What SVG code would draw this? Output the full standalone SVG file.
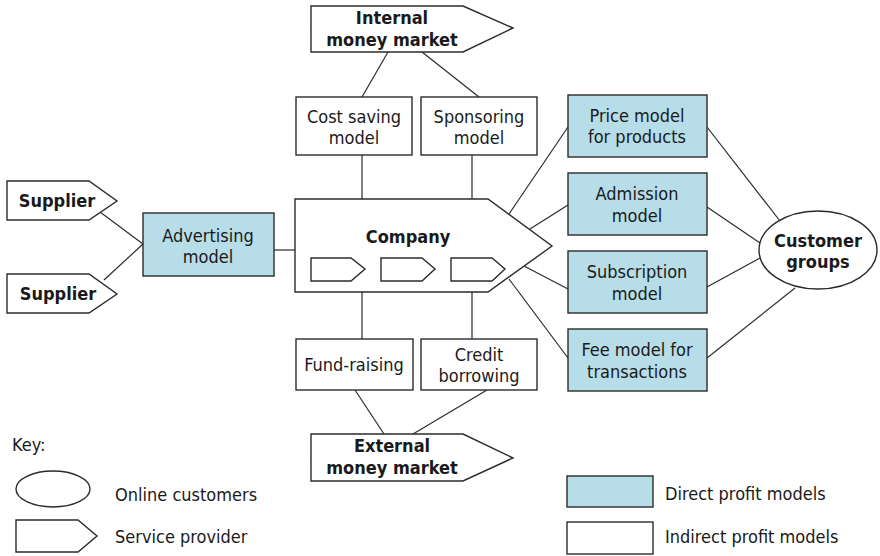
<svg xmlns="http://www.w3.org/2000/svg" width="880" height="556" viewBox="0 0 880 556">
<style>
.s{fill:#fff;stroke:#2b2b2b;stroke-width:1.4}
.b{fill:#b7dde8;stroke:#2b2b2b;stroke-width:1.4}
.c line{stroke:#2b2b2b;stroke-width:1.2}
text{font-family:"DejaVu Sans Condensed","DejaVu Sans",sans-serif;font-size:18px;fill:#1a1a1a;text-anchor:middle}
.bd{font-weight:bold}
.k{text-anchor:start}
</style>
<rect width="880" height="556" fill="#fff"/>
<g id="connectors" class="c">
<line x1="388" y1="52" x2="362" y2="97"/>
<line x1="422" y1="52" x2="479" y2="97"/>
<line x1="362" y1="155" x2="362" y2="199"/>
<line x1="472" y1="155" x2="472" y2="199"/>
<line x1="100" y1="212" x2="143" y2="244"/>
<line x1="104" y1="280" x2="143" y2="244"/>
<line x1="274" y1="250" x2="295" y2="250"/>
<line x1="509" y1="214" x2="568" y2="127"/>
<line x1="530" y1="229" x2="568" y2="205"/>
<line x1="524" y1="266" x2="568" y2="289"/>
<line x1="509" y1="279" x2="568" y2="358"/>
<line x1="707" y1="127" x2="780" y2="221"/>
<line x1="707" y1="207" x2="760" y2="243"/>
<line x1="707" y1="287" x2="760" y2="258"/>
<line x1="707" y1="358" x2="795" y2="288"/>
<line x1="362" y1="292" x2="362" y2="339"/>
<line x1="472" y1="292" x2="472" y2="339"/>
<line x1="355" y1="390" x2="384" y2="434"/>
<line x1="487" y1="390" x2="413" y2="434"/>
</g>
<g id="internal-money-market">
<polygon class="s" points="311,6 463,6 513,28 463,52 311,52"/>
<text class="bd" x="392" y="24">Internal</text>
<text class="bd" x="392" y="46">money market</text>
</g>
<g id="cost-saving-model">
<rect class="s" x="296" y="97" width="116" height="58"/>
<text x="354" y="123">Cost saving</text>
<text x="354" y="144">model</text>
</g>
<g id="sponsoring-model">
<rect class="s" x="421" y="97" width="116" height="58"/>
<text x="479" y="123">Sponsoring</text>
<text x="479" y="144">model</text>
</g>
<g id="supplier-1">
<polygon class="s" points="7,181 89,181 117,201 89,220 7,220"/>
<text class="bd" x="57" y="207">Supplier</text>
</g>
<g id="supplier-2">
<polygon class="s" points="7,274 89,274 117,294 89,313 7,313"/>
<text class="bd" x="58" y="300">Supplier</text>
</g>
<g id="advertising-model">
<rect class="b" x="143" y="213" width="131" height="63"/>
<text x="208" y="242">Advertising</text>
<text x="208" y="263">model</text>
</g>
<g id="company">
<polygon class="s" points="295,199 488,199 552,246 488,292 295,292"/>
<text class="bd" x="408" y="243">Company</text>
<polygon class="s" points="311,258 351,258 365,269 351,281 311,281"/>
<polygon class="s" points="381,258 422,258 435,269 422,281 381,281"/>
<polygon class="s" points="451,258 492,258 505,269 492,281 451,281"/>
</g>
<g id="price-model">
<rect class="b" x="568" y="95" width="139" height="62"/>
<text x="637" y="122">Price model</text>
<text x="637" y="143">for products</text>
</g>
<g id="admission-model">
<rect class="b" x="568" y="173" width="139" height="62"/>
<text x="637" y="200">Admission</text>
<text x="637" y="222">model</text>
</g>
<g id="subscription-model">
<rect class="b" x="568" y="251" width="139" height="62"/>
<text x="637" y="278">Subscription</text>
<text x="637" y="300">model</text>
</g>
<g id="fee-model">
<rect class="b" x="568" y="329" width="139" height="62"/>
<text x="637" y="356">Fee model for</text>
<text x="637" y="378">transactions</text>
</g>
<g id="customer-groups">
<ellipse class="s" cx="818" cy="250" rx="59" ry="39"/>
<text class="bd" x="818" y="247">Customer</text>
<text class="bd" x="818" y="268">groups</text>
</g>
<g id="fund-raising">
<rect class="s" x="296" y="339" width="117" height="51"/>
<text x="354" y="371">Fund-raising</text>
</g>
<g id="credit-borrowing">
<rect class="s" x="421" y="339" width="116" height="51"/>
<text x="479" y="361">Credit</text>
<text x="479" y="382">borrowing</text>
</g>
<g id="external-money-market">
<polygon class="s" points="311,434 463,434 513,458 463,481 311,481"/>
<text class="bd" x="392" y="452">External</text>
<text class="bd" x="392" y="474">money market</text>
</g>
<g id="key">
<text class="k" x="12" y="451">Key:</text>
<ellipse class="s" cx="53" cy="489" rx="37" ry="18"/>
<text class="k" x="115" y="501">Online customers</text>
<polygon class="s" points="16,520 78,520 97,536 78,552 16,552"/>
<text class="k" x="115" y="543">Service provider</text>
<rect class="b" x="567" y="476" width="86" height="31"/>
<text class="k" x="665" y="500">Direct profit models</text>
<rect class="s" x="567" y="522" width="86" height="32"/>
<text class="k" x="665" y="543">Indirect profit models</text>
</g>
</svg>
